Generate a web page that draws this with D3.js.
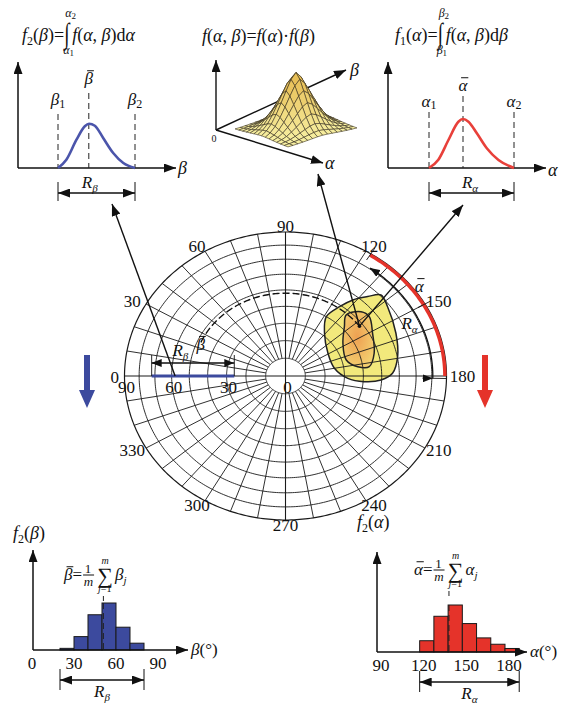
<!DOCTYPE html>
<html>
<head>
<meta charset="utf-8">
<script src="https://cdn.jsdelivr.net/npm/d3@7"></script>
<style>
  body { margin: 0; background: #fff; }
  svg { display: block; }
  text { font-family: "Liberation Serif", "Times New Roman", serif; fill: #111; white-space: pre; }
</style>
</head>
<body>
<div id="chart"></div>
<script>
// ---- polar net (equal-area), azimuth 0 on the left, 90 at the top ----
const azimuthTicks = [30, 60, 90, 120, 150, 180, 210, 240, 270, 300, 330];
const dipTicks = [0, 30, 60, 90];
const ringDips = [10, 20, 30, 40, 50, 60, 70, 80, 90];
const spokeAzimuths = d3.range(0, 360, 10);

const blobOuter = [[121.6,40],[124.9,49],[128.4,56.9],[132.8,64.2],[136.5,70.6],[142.8,68.5],[156.6,63.8],
  [169.1,60.2],[178.4,56.1],[182.7,49.7],[184.6,40.6],[182.4,31.8],[170,25.2],[149.1,25.1],[129.3,31.4]];
const blobInner = [[131.6,47.3],[136.4,54.5],[141.6,56],[151.3,51.7],[164,47.8],[172.9,43.5],
  [171.8,37.4],[163.6,32.3],[147.5,34.8],[136.9,41.5]];
const meanDir = [143, 48];          // [alpha mean, beta mean]
const alphaRangeNet = [122, 180];   // red arc
const alphaArrowNet = [125, 181];   // R_alpha arc
const betaRangeNet = [26, 72];      // blue segment
const betaDashFrom = 24;            // azimuth where dashed beta-mean ring starts

// ---- top marginal curves ----
const betaCurve = [[20,0],[26.5,8.3],[34.4,28.3],[40.9,41.7],[44.2,44.3],[48.7,42.3],[55.2,30],[63,15],[70.9,5],[80,0]];
const betaLimits = [20, 80], betaMeanTop = 44;
const alphaCurve = [[120,0],[127.7,8.3],[136,28],[144.2,46.3],[147.9,49],[152.5,46.3],[159.4,34.7],[167.6,19.7],[177.2,8],[190,0]];
const alphaLimits = [120, 190], alphaMeanTop = 148;

// ---- joint density surface, f(a,b) = f(a) * f(b) ----
const surfProfile = [0.04, 0.1, 0.2, 0.35, 0.53, 0.72, 0.9, 1, 0.9, 0.72, 0.53, 0.35, 0.2, 0.1, 0.04];

// ---- bottom histograms ----
const betaBins = [20, 30, 40, 50, 60, 70, 80];
const betaFreq = [0.7, 5.7, 15, 20, 9.7, 2.9];
const betaHistTicks = [0, 30, 60, 90];
const betaHistMean = 51, betaHistRange = [20, 80];
const alphaBins = [120, 130, 140, 150, 160, 170, 180, 190];
const alphaFreq = [4.8, 15.2, 20, 12.1, 6, 3.3, 1.5];
const alphaHistTicks = [90, 120, 150, 180];
const alphaHistMean = 140.6, alphaHistRange = [120, 190];

const W = 569, H = 704;
const BLUE = "#3c4a9e", RED = "#e5332a";

const svg = d3.select("#chart").append("svg").attr("width", W).attr("height", H);
const defs = svg.append("defs");

function marker(id, color, len, wid) {
  defs.append("marker").attr("id", id)
    .attr("viewBox", `0 0 ${len} ${wid}`).attr("refX", len).attr("refY", wid / 2)
    .attr("markerWidth", len).attr("markerHeight", wid)
    .attr("markerUnits", "userSpaceOnUse").attr("orient", "auto-start-reverse")
    .append("path").attr("d", `M0,0L${len},${wid / 2}L0,${wid}Z`).attr("fill", color);
}
marker("ah", "#111", 12, 9);
marker("ahs", "#111", 10, 8);

const grad = defs.append("radialGradient").attr("id", "core").attr("cx", "45%").attr("cy", "45%").attr("r", "60%");
grad.append("stop").attr("offset", "0%").attr("stop-color", "#eea052");
grad.append("stop").attr("offset", "100%").attr("stop-color", "#f3d070");

// text made of pieces, laid out left to right
function rich(g, x, y, parts, size) {
  let cx = x;
  parts.forEach(p => {
    const t = g.append("text")
      .attr("x", cx + (p.dx || 0)).attr("y", y + (p.dy || 0))
      .attr("font-size", p.s || size)
      .attr("font-style", p.i ? "italic" : "normal")
      .text(p.t);
    const w = t.node().getComputedTextLength();
    if (p.bar) {
      const fs = p.s || size;
      g.append("line").attr("x1", cx + (p.dx || 0) + fs * 0.15).attr("x2", cx + (p.dx || 0) + w + fs * 0.05)
        .attr("y1", y + (p.dy || 0) - fs * 0.78).attr("y2", y + (p.dy || 0) - fs * 0.78)
        .attr("stroke", "#111").attr("stroke-width", 1);
    }
    cx += w + (p.dx || 0) + (p.gap || 0);
  });
  return cx;
}
function richCentered(g, x, y, parts, size) {
  const tmp = g.append("g");
  const w = rich(tmp, 0, 0, parts, size);
  tmp.remove();
  return rich(g, x - w / 2, y, parts, size);
}
// tall integral sign with limits above and below
function integral(g, x, y, top, bottom) {
  g.append("text").attr("transform", `translate(${x},${y}) scale(0.95,1.45)`).attr("font-size", 20).text("∫");
  rich(g, x + 1, y - 26, top, 12);
  rich(g, x - 1, y + 11, bottom, 12);
  return x + 8;
}

// ================= polar net =================
const cx = 285.5, cy = 376, rx = 161, ry = 144;
const rho = d3.scaleLinear().domain([0, Math.SQRT1_2]).range([0, 1]);
const netX = d3.scaleLinear().domain([-1, 1]).range([cx + rx, cx - rx]);
const netY = d3.scaleLinear().domain([-1, 1]).range([cy + ry, cy - ry]);
function net(az, dip, k = 1) {
  const r = rho(Math.sin(dip * Math.PI / 360)) * k;
  const a = az * Math.PI / 180;
  return [netX(r * Math.cos(a)), netY(r * Math.sin(a))];
}
const line = d3.line();
function arc(dip, a0, a1, k = 1) {
  return line(d3.range(a0, a1 + 0.001, 1).concat([a1]).map(a => net(a, dip, k)));
}

const gNet = svg.append("g");

// cluster fills (grid shows through)
const closed = d3.line().curve(d3.curveCatmullRomClosed.alpha(0.5));
gNet.append("path").attr("d", closed(blobOuter.map(d => net(d[0], d[1])))).attr("fill", "#f2e97c");
gNet.append("path").attr("d", closed(blobInner.map(d => net(d[0], d[1])))).attr("fill", "url(#core)");

// grid rings and spokes
ringDips.forEach(d => {
  gNet.append("path").attr("d", arc(d, 0, 360)).attr("fill", "none")
    .attr("stroke", "#1a1a1a").attr("stroke-width", d === 90 ? 1.2 : 0.9);
});
spokeAzimuths.forEach(a => {
  const from = a % 90 === 0 ? 0 : 10;
  gNet.append("path").attr("d", line([net(a, from), net(a, 90)]))
    .attr("stroke", "#1a1a1a").attr("stroke-width", a % 90 === 0 ? 1.1 : 0.9);
});

// cluster outlines
gNet.append("path").attr("d", closed(blobOuter.map(d => net(d[0], d[1])))).attr("fill", "none")
  .attr("stroke", "#222").attr("stroke-width", 1.5);
gNet.append("path").attr("d", closed(blobInner.map(d => net(d[0], d[1])))).attr("fill", "none")
  .attr("stroke", "#222").attr("stroke-width", 1.5);

// dashed ring through the beta mean
gNet.append("path").attr("d", arc(meanDir[1], betaDashFrom, meanDir[0])).attr("fill", "none")
  .attr("stroke", "#111").attr("stroke-width", 1.4).attr("stroke-dasharray", "7,3");

// red alpha range on the rim
gNet.append("path").attr("d", arc(90, alphaRangeNet[0], alphaRangeNet[1], 0.99)).attr("fill", "none")
  .attr("stroke", RED).attr("stroke-width", 3.5);
// R_alpha double arrow
gNet.append("path").attr("d", arc(90, alphaArrowNet[0], alphaArrowNet[1], 0.915)).attr("fill", "none")
  .attr("stroke", "#111").attr("stroke-width", 1.3)
  .attr("marker-start", "url(#ahs)").attr("marker-end", "url(#ahs)");
[[alphaRangeNet[0], 0.95, 1.05], [150, 0.95, 1.04], [alphaArrowNet[1], 0.85, 1.0]].forEach(t => {
  gNet.append("path").attr("d", line([net(t[0], 90, t[1]), net(t[0], 90, t[2])]))
    .attr("stroke", "#111").attr("stroke-width", 0.9);
});

// blue beta range along azimuth 0
gNet.append("path").attr("d", line([net(0, betaRangeNet[0]), net(0, betaRangeNet[1])]))
  .attr("stroke", BLUE).attr("stroke-width", 3);
const xb0 = net(0, betaRangeNet[1])[0], xb1 = net(0, betaRangeNet[0])[0];
gNet.append("line").attr("x1", xb0).attr("x2", xb1).attr("y1", cy - 13).attr("y2", cy - 13)
  .attr("stroke", "#111").attr("stroke-width", 1.3)
  .attr("marker-start", "url(#ahs)").attr("marker-end", "url(#ahs)");
[xb0, xb1].forEach(x => gNet.append("line").attr("x1", x).attr("x2", x).attr("y1", cy - 21).attr("y2", cy)
  .attr("stroke", "#111").attr("stroke-width", 0.9));

// labels on the net
azimuthTicks.forEach(a => {
  const r = Math.PI / 180 * a;
  gNet.append("text").attr("x", netX(1.1 * Math.cos(r))).attr("y", netY(1.04 * Math.sin(r)))
    .attr("text-anchor", "middle").attr("dominant-baseline", "central").attr("font-size", 17).text(a);
});
gNet.append("text").attr("x", netX(1.06)).attr("y", cy + 1).attr("text-anchor", "middle")
  .attr("dominant-baseline", "central").attr("font-size", 17).text(0);
dipTicks.forEach(d => {
  gNet.append("text").attr("x", net(0, d)[0] + 2).attr("y", cy + 17).attr("text-anchor", "middle")
    .attr("font-size", 17).text(d);
});
const pb = net(20, meanDir[1]);
rich(gNet, pb[0] - 26, pb[1] + 8, [{ t: "R", i: 1 }, { t: "β", i: 1, s: 11, dy: 4 }], 17);
rich(gNet, pb[0] - 2, pb[1] + 2, [{ t: "β", i: 1, bar: 1 }], 17);
const pa = net(meanDir[0], 90, 1.04);
richCentered(gNet, pa[0], pa[1] + 6, [{ t: "α", i: 1, bar: 1 }], 17);
const pr = net(155, 90, 0.85);
richCentered(gNet, pr[0], pr[1] + 5, [{ t: "R", i: 1 }, { t: "α", i: 1, s: 11, dy: 4 }], 17);

// mean direction marker
const pm = net(meanDir[0], meanDir[1]);
gNet.append("circle").attr("cx", pm[0]).attr("cy", pm[1]).attr("r", 1.8).attr("fill", "#111");

// ================= top-left: f2(beta) =================
const gTL = svg.append("g");
const xTL = d3.scaleLinear().domain(betaLimits).range([58, 135]);
const yTop = d3.scaleLinear().domain([0, 50]).range([168, 118]);
gTL.append("line").attr("x1", 18).attr("x2", 18).attr("y1", 168).attr("y2", 62)
  .attr("stroke", "#111").attr("stroke-width", 1.5).attr("marker-end", "url(#ah)");
gTL.append("line").attr("x1", 18).attr("x2", 176).attr("y1", 168).attr("y2", 168)
  .attr("stroke", "#111").attr("stroke-width", 1.5).attr("marker-end", "url(#ah)");
rich(gTL, 178, 174, [{ t: "β", i: 1 }], 18);
[betaLimits[0], betaLimits[1]].forEach(v => gTL.append("line").attr("x1", xTL(v)).attr("x2", xTL(v))
  .attr("y1", 114).attr("y2", 168).attr("stroke", "#222").attr("stroke-dasharray", "6,4"));
gTL.append("line").attr("x1", xTL(betaMeanTop)).attr("x2", xTL(betaMeanTop)).attr("y1", 93).attr("y2", 168)
  .attr("stroke", "#222").attr("stroke-dasharray", "6,4");
gTL.append("path").datum(betaCurve)
  .attr("d", d3.line().x(d => xTL(d[0])).y(d => yTop(d[1])).curve(d3.curveMonotoneX))
  .attr("fill", "none").attr("stroke", "#4b55ab").attr("stroke-width", 2.6);
richCentered(gTL, xTL(betaLimits[0]), 105, [{ t: "β", i: 1 }, { t: "1", s: 12, dy: 3 }], 17);
richCentered(gTL, xTL(betaLimits[1]), 105, [{ t: "β", i: 1 }, { t: "2", s: 12, dy: 3 }], 17);
richCentered(gTL, xTL(betaMeanTop), 84, [{ t: "β", i: 1, bar: 1 }], 17);
gTL.append("line").attr("x1", xTL(betaLimits[0])).attr("x2", xTL(betaLimits[1])).attr("y1", 193).attr("y2", 193)
  .attr("stroke", "#111").attr("stroke-width", 1.4).attr("marker-start", "url(#ah)").attr("marker-end", "url(#ah)");
betaLimits.forEach(v => gTL.append("line").attr("x1", xTL(v)).attr("x2", xTL(v)).attr("y1", 182).attr("y2", 201)
  .attr("stroke", "#111"));
richCentered(gTL, xTL(betaMeanTop) + 1, 188, [{ t: "R", i: 1 }, { t: "β", i: 1, s: 11, dy: 4 }], 17);
// formula
let fx = rich(gTL, 22, 41, [{ t: "f", i: 1 }, { t: "2", s: 12, dy: 4 }, { t: "(" }, { t: "β", i: 1 }, { t: ")=" }], 18);
fx = integral(gTL, fx, 43, [{ t: "α", i: 1 }, { t: "2", s: 9, dy: 2 }], [{ t: "α", i: 1 }, { t: "1", s: 9, dy: 2 }]);
rich(gTL, fx, 41, [{ t: "f", i: 1 }, { t: "(" }, { t: "α", i: 1 }, { t: ", " }, { t: "β", i: 1 }, { t: ")d" }, { t: "α", i: 1 }], 18);

// ================= top-right: f1(alpha) =================
const gTR = svg.append("g");
const xTR = d3.scaleLinear().domain(alphaLimits).range([429, 514]);
gTR.append("line").attr("x1", 388).attr("x2", 388).attr("y1", 168).attr("y2", 62)
  .attr("stroke", "#111").attr("stroke-width", 1.5).attr("marker-end", "url(#ah)");
gTR.append("line").attr("x1", 388).attr("x2", 546).attr("y1", 168).attr("y2", 168)
  .attr("stroke", "#111").attr("stroke-width", 1.5).attr("marker-end", "url(#ah)");
rich(gTR, 548, 176, [{ t: "α", i: 1 }], 18);
alphaLimits.forEach(v => gTR.append("line").attr("x1", xTR(v)).attr("x2", xTR(v))
  .attr("y1", 112).attr("y2", 168).attr("stroke", "#222").attr("stroke-dasharray", "6,4"));
gTR.append("line").attr("x1", xTR(alphaMeanTop)).attr("x2", xTR(alphaMeanTop)).attr("y1", 96).attr("y2", 168)
  .attr("stroke", "#222").attr("stroke-dasharray", "6,4");
gTR.append("path").datum(alphaCurve)
  .attr("d", d3.line().x(d => xTR(d[0])).y(d => yTop(d[1])).curve(d3.curveMonotoneX))
  .attr("fill", "none").attr("stroke", "#e8403a").attr("stroke-width", 2.6);
richCentered(gTR, xTR(alphaLimits[0]), 107, [{ t: "α", i: 1 }, { t: "1", s: 12, dy: 2 }], 17);
richCentered(gTR, xTR(alphaLimits[1]), 107, [{ t: "α", i: 1 }, { t: "2", s: 12, dy: 2 }], 17);
richCentered(gTR, xTR(alphaMeanTop), 91, [{ t: "α", i: 1, bar: 1 }], 17);
gTR.append("line").attr("x1", xTR(alphaLimits[0])).attr("x2", xTR(alphaLimits[1])).attr("y1", 193).attr("y2", 193)
  .attr("stroke", "#111").attr("stroke-width", 1.4).attr("marker-start", "url(#ah)").attr("marker-end", "url(#ah)");
alphaLimits.forEach(v => gTR.append("line").attr("x1", xTR(v)).attr("x2", xTR(v)).attr("y1", 182).attr("y2", 201)
  .attr("stroke", "#111"));
richCentered(gTR, xTR(alphaMeanTop) + 7, 188, [{ t: "R", i: 1 }, { t: "α", i: 1, s: 11, dy: 4 }], 17);
fx = rich(gTR, 395, 41, [{ t: "f", i: 1 }, { t: "1", s: 12, dy: 4 }, { t: "(" }, { t: "α", i: 1 }, { t: ")=" }], 18);
fx = integral(gTR, fx, 43, [{ t: "β", i: 1 }, { t: "2", s: 9, dy: 2 }], [{ t: "β", i: 1 }, { t: "1", s: 9, dy: 2 }]);
rich(gTR, fx, 41, [{ t: "f", i: 1 }, { t: "(" }, { t: "α", i: 1 }, { t: ", " }, { t: "β", i: 1 }, { t: ")d" }, { t: "β", i: 1 }], 18);

// ================= top-middle: joint surface =================
const gTM = svg.append("g");
const O = [216, 130];
const sL = [235, 129], sF = [288, 147], sK = [304, 110], sH = 56;
const su = d3.scaleLinear().domain([0, surfProfile.length - 1]).range([0, 1]);
function sp(i, j) {
  const u = su(i), v = su(j), z = surfProfile[i] * surfProfile[j];
  return [sL[0] + u * (sF[0] - sL[0]) + v * (sK[0] - sL[0]),
          sL[1] + u * (sF[1] - sL[1]) + v * (sK[1] - sL[1]) - z * sH];
}
gTM.append("line").attr("x1", O[0]).attr("y1", O[1]).attr("x2", 346).attr("y2", 70)
  .attr("stroke", "#111").attr("stroke-width", 1.4).attr("marker-end", "url(#ah)");
const quads = [];
for (let i = 0; i < surfProfile.length - 1; i++) {
  for (let j = 0; j < surfProfile.length - 1; j++) {
    const z = (surfProfile[i] * surfProfile[j] + surfProfile[i + 1] * surfProfile[j + 1]) / 2;
    quads.push({ pts: [sp(i, j), sp(i + 1, j), sp(i + 1, j + 1), sp(i, j + 1)], depth: 17 * i - 19 * j, z: z });
  }
}
quads.sort((a, b) => a.depth - b.depth);
const shade = d3.interpolateRgb("#f7f0a2", "#e8c058");
gTM.selectAll("path.q").data(quads).enter().append("path").attr("class", "q")
  .attr("d", d => line(d.pts) + "Z")
  .attr("fill", d => shade(Math.min(1, d.z * 1.2)))
  .attr("stroke", "#3b3322").attr("stroke-width", 0.6).attr("stroke-linejoin", "round");
gTM.append("line").attr("x1", O[0]).attr("y1", O[1]).attr("x2", O[0]).attr("y2", 60)
  .attr("stroke", "#111").attr("stroke-width", 1.4).attr("marker-end", "url(#ah)");
gTM.append("line").attr("x1", O[0]).attr("y1", O[1]).attr("x2", 323).attr("y2", 163)
  .attr("stroke", "#111").attr("stroke-width", 1.4).attr("marker-end", "url(#ah)");
gTM.append("text").attr("x", O[0] - 2).attr("y", O[1] + 12).attr("font-size", 10).attr("text-anchor", "middle").text("0");
rich(gTM, 325, 169, [{ t: "α", i: 1 }], 18);
rich(gTM, 350, 76, [{ t: "β", i: 1 }], 18);
rich(gTM, 202, 42, [{ t: "f", i: 1 }, { t: "(" }, { t: "α", i: 1 }, { t: ", " }, { t: "β", i: 1 }, { t: ")=" },
  { t: "f", i: 1 }, { t: "(" }, { t: "α", i: 1 }, { t: ")·" }, { t: "f", i: 1 }, { t: "(" }, { t: "β", i: 1 }, { t: ")" }], 18);

// leader arrows from the net to the panels
const gLead = svg.append("g");
const pbs = net(0, 58);
gLead.append("line").attr("x1", pbs[0]).attr("y1", pbs[1]).attr("x2", 112).attr("y2", 204)
  .attr("stroke", "#111").attr("stroke-width", 1.4).attr("marker-end", "url(#ah)");
gLead.append("line").attr("x1", pm[0]).attr("y1", pm[1]).attr("x2", 318).attr("y2", 174)
  .attr("stroke", "#111").attr("stroke-width", 1.4).attr("marker-end", "url(#ah)");
gLead.append("line").attr("x1", pm[0]).attr("y1", pm[1]).attr("x2", xTR(alphaMeanTop)).attr("y2", 205)
  .attr("stroke", "#111").attr("stroke-width", 1.4).attr("marker-end", "url(#ah)");

// thick down arrows
[[87, BLUE], [485, RED]].forEach(a => {
  svg.append("path")
    .attr("d", `M${a[0] - 3},355L${a[0] + 3},355L${a[0] + 3},390L${a[0] + 8},390L${a[0]},408L${a[0] - 8},390L${a[0] - 3},390Z`)
    .attr("fill", a[1]);
});

// ================= bottom histograms =================
function histogram(o) {
  const g = svg.append("g");
  const x = d3.scaleLinear().domain(o.xDomain).range(o.xRange);
  const y = d3.scaleLinear().domain([0, 20]).range([o.base, o.base - 47]);
  g.selectAll("rect").data(o.freq).enter().append("rect")
    .attr("x", (d, i) => x(o.bins[i])).attr("width", (d, i) => x(o.bins[i + 1]) - x(o.bins[i]))
    .attr("y", d => y(d)).attr("height", d => o.base - y(d))
    .attr("fill", o.color).attr("stroke", "#1a1a1a").attr("stroke-width", 1);
  g.append("line").attr("x1", o.xRange[0] + o.axisShift).attr("x2", o.xRange[0] + o.axisShift)
    .attr("y1", o.base).attr("y2", o.base - 100)
    .attr("stroke", "#111").attr("stroke-width", 1.5).attr("marker-end", "url(#ah)");
  g.append("line").attr("x1", o.xRange[0] + o.axisShift).attr("x2", o.xTip).attr("y1", o.base).attr("y2", o.base)
    .attr("stroke", "#111").attr("stroke-width", 1.5).attr("marker-end", "url(#ah)");
  g.append("line").attr("x1", x(o.mean)).attr("x2", x(o.mean)).attr("y1", y(20)).attr("y2", o.base)
    .attr("stroke", "#222").attr("stroke-width", 1).attr("stroke-dasharray", "6,4");
  g.selectAll("text.tick").data(o.ticks).enter().append("text").attr("class", "tick")
    .attr("x", d => x(d) + o.tickShift).attr("y", o.base + 19).attr("text-anchor", "middle")
    .attr("font-size", 17).text(d => d);
  const ay = o.base + 30;
  g.append("line").attr("x1", x(o.range[0])).attr("x2", x(o.range[1])).attr("y1", ay).attr("y2", ay)
    .attr("stroke", "#111").attr("stroke-width", 1.4).attr("marker-start", "url(#ah)").attr("marker-end", "url(#ah)");
  o.range.forEach(v => g.append("line").attr("x1", x(v)).attr("x2", x(v)).attr("y1", ay - 11).attr("y2", ay + 10)
    .attr("stroke", "#111"));
  richCentered(g, (x(o.range[0]) + x(o.range[1])) / 2, ay + 17, [{ t: "R", i: 1 }, { t: o.sym, i: 1, s: 11, dy: 4 }], 17);
  rich(g, o.xTip + 3, o.base + 5, [{ t: o.sym, i: 1 }, { t: "(°)" }], 17);
  rich(g, o.fx, o.fy, [{ t: "f", i: 1 }, { t: "2", s: 12, dy: 4 }, { t: "(" }, { t: o.sym, i: 1 }, { t: ")" }], 18);
  // mean formula
  const B = o.formY;
  let px = rich(g, o.formX, B, [{ t: o.sym, i: 1, bar: 1 }, { t: "=" }], 17);
  g.append("text").attr("x", px + 6).attr("y", B - 7).attr("font-size", 13).attr("text-anchor", "middle").text("1");
  g.append("line").attr("x1", px + 1).attr("x2", px + 12).attr("y1", B - 5).attr("y2", B - 5).attr("stroke", "#111");
  g.append("text").attr("x", px + 6.5).attr("y", B + 6).attr("font-size", 13).attr("font-style", "italic")
    .attr("text-anchor", "middle").text("m");
  px += 15;
  g.append("text").attr("x", px + 8).attr("y", B + 3).attr("font-size", 22).attr("text-anchor", "middle").text("∑");
  g.append("text").attr("x", px + 8).attr("y", B - 16).attr("font-size", 10).attr("font-style", "italic")
    .attr("text-anchor", "middle").text("m");
  rich(g, px + 1, B + 12, [{ t: "j", i: 1 }, { t: "=1" }], 10);
  rich(g, px + 18, B, [{ t: o.sym, i: 1 }, { t: "j", i: 1, s: 11, dy: 4 }], 17);
  g.append("line").attr("x1", x(o.mean)).attr("x2", x(o.mean)).attr("y1", B + 16).attr("y2", B + 21)
    .attr("stroke", "#222");
}
histogram({ bins: betaBins, freq: betaFreq, ticks: betaHistTicks, mean: betaHistMean, range: betaHistRange,
  xDomain: [0, 90], xRange: [32, 158], axisShift: 1, xTip: 188, base: 650, color: BLUE, sym: "β", tickShift: 0,
  fx: 13, fy: 539, formX: 64, formY: 580 });
histogram({ bins: alphaBins, freq: alphaFreq, ticks: alphaHistTicks, mean: alphaHistMean, range: alphaHistRange,
  xDomain: [90, 180], xRange: [377, 505], axisShift: 0, xTip: 527, base: 652, color: RED, sym: "α", tickShift: 4,
  fx: 357, fy: 528, formX: 414, formY: 575 });
</script>
</body>
</html>
